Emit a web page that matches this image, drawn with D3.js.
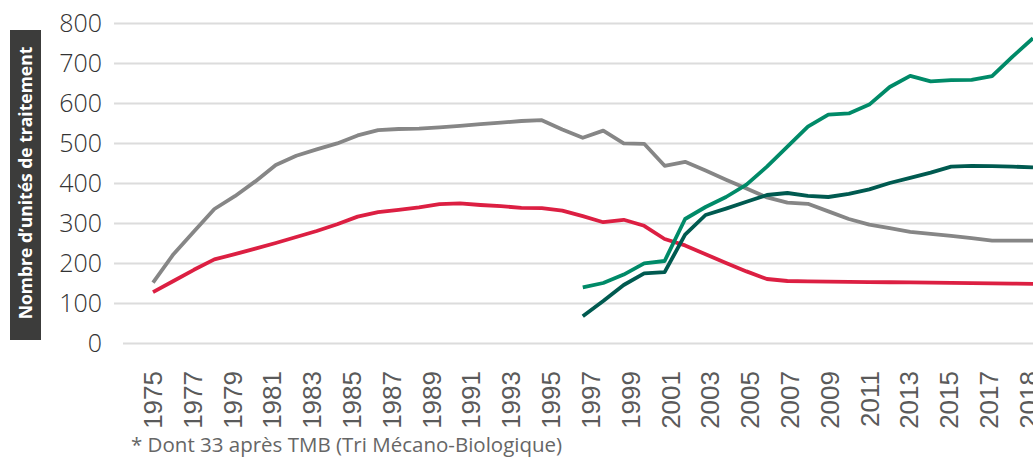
<!DOCTYPE html>
<html>
<head>
<meta charset="utf-8">
<script src="https://cdn.jsdelivr.net/npm/d3@7"></script>
<style>
  html, body { margin: 0; padding: 0; background: #fff; }
  svg { display: block; }
</style>
</head>
<body>
<svg id="chart" width="1033" height="459"></svg>
<script>
// ---- Data ----
const yearsAll = d3.range(1975, 2019);               // 1975 … 2018
const yearsLate = d3.range(1996, 2019);              // 1996 … 2018

const seriesGrey = [151, 222, 279, 335, 367, 404, 445, 468, 484, 499, 519, 532, 535, 536, 539,
  543, 547, 551, 555, 557, 534, 513, 531, 499, 498, 443, 453, 431, 408, 386, 364, 351, 348, 329,
  310, 296, 287, 278, 273, 268, 262, 256, 256, 256];

const seriesRed = [127, 155, 183, 209, 222, 236, 250, 265, 280, 297, 316, 327, 333, 339, 347,
  349, 345, 342, 338, 337, 331, 317, 302, 308, 293, 260, 244, 222, 200, 179, 160, 155, 154, 153.5,
  153, 152.4, 151.9, 151.4, 150.8, 150.2, 149.7, 149.2, 148.6, 148];

const seriesGreen = [139, 150, 171, 199, 205, 310, 340, 365, 396, 441, 491, 541, 571, 574, 596,
  640, 668, 654, 657, 658, 667, 716, 762];

const seriesDarkGreen = [67, 105, 145, 174, 177, 271, 320, 336, 353, 370, 375, 368, 365, 373,
  384, 400, 413, 426, 441, 443, 442, 441, 439];

const xTickLabels = d3.range(1975, 2018, 2).map(String).concat(["2018"]);
const yTicks = [0, 100, 200, 300, 400, 500, 600, 700, 800];

const yTitle = "Nombre d\u2019unités de traitement";
const footnote = "* Dont 33 après TMB (Tri Mécano-Biologique)";

// ---- Layout ----
const svg = d3.select("#chart");
const W = 1033;

const x = d3.scaleLinear().domain([1975, 2018]).range([153, 1033]);
const xLab = d3.scalePoint().domain(xTickLabels).range([152, 1028]);
const y = d3.scaleLinear().domain([0, 800]).range([343, 23]);

// gridlines + y labels
const yAxis = d3.axisLeft(y).tickValues(yTicks).tickSize(-(W - 114)).tickPadding(12);
const gy = svg.append("g").attr("transform", "translate(114,0)").call(yAxis);
gy.select(".domain").remove();
gy.selectAll(".tick line")
  .attr("stroke", "#dcdcdc").attr("stroke-width", 2)
  .attr("x1", d => d === 0 ? 9 : 0);
gy.selectAll(".tick text")
  .attr("fill", "#333")
  .style("font-family", "'Open Sans', sans-serif")
  .style("font-weight", 300)
  .style("font-size", "25px");

// x labels
const xAxis = d3.axisBottom(xLab).tickSize(0);
const gx = svg.append("g").attr("transform", "translate(0,371)").call(xAxis);
gx.select(".domain").remove();
gx.selectAll(".tick text")
  .attr("transform", "rotate(-90)")
  .attr("text-anchor", "end")
  .attr("x", 0).attr("y", 0).attr("dy", "0.36em")
  .attr("fill", "#5a5a5a")
  .style("font-family", "'Liberation Sans', Arial, sans-serif")
  .style("font-size", "26px");

// lines
const line = d3.line().x(d => x(d[0])).y(d => y(d[1]));
const lines = [
  { years: yearsAll, values: seriesGrey, color: "#868686" },
  { years: yearsAll, values: seriesRed, color: "#dc1f42" },
  { years: yearsLate, values: seriesDarkGreen, color: "#005a50" },
  { years: yearsLate, values: seriesGreen, color: "#008a68" }
];
lines.forEach(s => {
  svg.append("path")
    .datum(s.years.map((yr, i) => [yr, s.values[i]]))
    .attr("fill", "none")
    .attr("stroke", s.color)
    .attr("stroke-width", 3.8)
    .attr("stroke-linejoin", "round")
    .attr("d", line);
});

// y title box
svg.append("rect").attr("x", 10).attr("y", 30).attr("width", 31).attr("height", 310)
  .attr("fill", "#3c3c3b");
svg.append("text")
  .attr("transform", "translate(26,183) rotate(-90)")
  .attr("text-anchor", "middle")
  .attr("dy", "0.36em")
  .attr("fill", "#fff")
  .style("font-family", "'Open Sans', sans-serif")
  .style("font-weight", 700)
  .style("font-size", "17.5px")
  .text(yTitle);

// footnote
svg.append("text")
  .attr("x", 131).attr("y", 452)
  .attr("fill", "#666")
  .style("font-family", "'Open Sans', sans-serif")
  .style("font-size", "20.5px")
  .text(footnote);
</script>
</body>
</html>
